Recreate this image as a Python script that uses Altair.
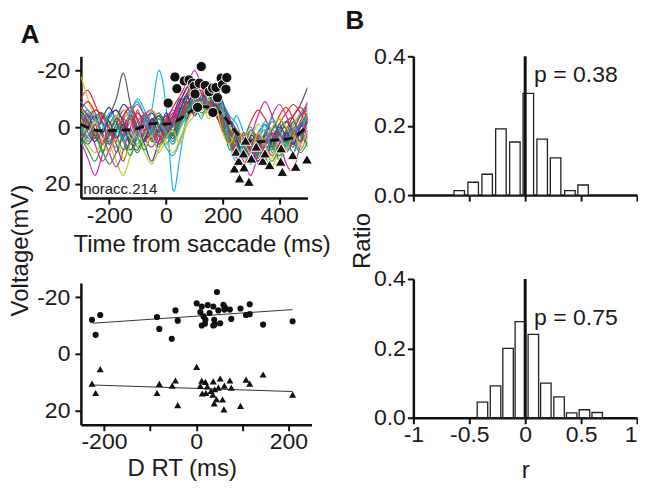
import altair as alt
import pandas as pd

FONT = "Liberation Sans"

# ---------------- Panel A (top): single-trial traces ----------------
TIME = [-300, -275, -250, -225, -200, -175, -150, -125, -100, -75, -50, -25, 0, 25, 50,
        75, 100, 125, 150, 175, 200, 225, 250, 275, 300, 325, 350, 375, 400, 425, 450, 475, 500]

GRAY_1 = [-3, -6, -2, 2, -4, -10, -19, -8, 0, 3, -2, -5, -1, 2, -6, -12, -14, -10, -15, -9, -4, 3, 8, 5, 9, 4, 1, 6, 3, -2, -4, -8, -14]
GRAY_2 = [4, 1, -3, -5, 1, 6, 12, 4, -2, -4, 2, 6, 1, -3, -5, -9, -6, -11, -8, -12, -6, 0, 6, 10, 4, 7, 3, -2, 2, 5, 1, -4, -7]
GRAY_3 = [-6, -2, 3, 6, 2, -3, -1, 5, 8, 2, -3, 0, 4, -1, -4, -10, -13, -9, -6, -10, -7, -2, 3, 7, 12, 8, 4, 8, 2, 0, 3, -1, -5]
GRAY_4 = [1, -5, 3, -2, 6, -1, 4, -4, 2, -3, 5, 1, -4, 3, -7, -3, -11, -6, -12, -5, -9, 2, 5, 11, 6, 10, 2, 7, -1, 4, -2, 3, -3]
RED_1 = [-10, -13, -8, -2, 3, -1, -6, -3, 2, 5, 1, -4, -2, 1, -3, -8, -12, -16, -11, -7, -3, 2, 7, 4, -2, -6, -3, 1, -4, -7, -3, 2, -2]
RED_2 = [2, -3, -6, -4, 1, 4, 0, -5, -8, -4, 1, 3, -2, -7, -11, -15, -10, -6, -9, -5, 1, 6, 9, 5, 1, 4, 8, 4, -1, -5, -8, -5, -1]
RED_3 = [-6, -9, -5, 2, 5, 1, -4, -7, -3, 2, 4, 0, -4, -2, -8, -12, -17, -12, -8, -4, -1, 4, 10, 13, 8, 3, 6, 10, 6, 1, -4, -7, -3]
RED_4 = [3, -2, 4, -4, 0, 5, -3, 2, -6, 1, -2, 5, -1, -5, -2, -9, -5, -13, -7, -11, 0, -3, 6, 2, 9, 3, 11, 5, 2, 8, 1, 5, -4]
MAGENTA_1 = [5, 11, 17, 10, 2, -3, 1, 6, 2, -4, -6, -1, 3, -2, -9, -14, -20, -15, -8, -5, -1, 5, 11, 8, 3, -4, -9, -4, 4, 13, 15, 6, -2]
MAGENTA_2 = [-4, 0, 6, 12, 8, 1, -4, -7, -2, 4, 7, 3, -1, -5, -3, -10, -14, -11, -16, -12, -6, 2, 8, 12, 17, 10, 3, -4, -8, -4, 3, 8, 2]
MAGENTA_3 = [1, -4, -2, 3, 9, 14, 8, 0, -5, -1, 4, 1, -3, -6, -2, -7, -11, -8, -13, -10, -4, 2, 5, 3, 7, 12, 7, 2, 5, 9, 4, -2, -9]
MAGENTA_4 = [-2, 4, -1, 6, 1, 9, 2, -3, 3, -5, 0, 6, 2, -3, -8, -4, -9, -14, -6, -10, -3, 3, 1, 8, 4, 13, 6, 2, 9, 3, 7, -1, 4]
BLUE_1 = [-7, -4, 1, 5, 2, -3, -8, -5, 1, 6, 12, 5, -1, -4, -9, -14, -12, -16, -12, -8, -3, 3, 6, 9, 5, 2, -1, 3, 7, 4, -1, -4, -6]
BLUE_2 = [3, 6, 2, -3, -7, -2, 4, 8, 3, -2, -5, -1, 3, -4, -10, -8, -13, -9, -5, -8, -2, 4, 9, 6, 11, 7, 3, 6, 1, -2, 2, 5, 1]
BLUE_3 = [-2, 2, 5, 1, -4, -6, -2, 3, 7, 4, -1, -4, 0, 4, -2, -6, -10, -7, -12, -15, -9, -3, 1, 5, 8, 12, 9, 4, 0, 3, 6, 2, -3]
BLUE_4 = [5, 0, -4, 2, -2, 4, -1, 6, 0, 5, -3, 2, -5, 0, -6, -11, -4, -9, -14, -6, 1, -2, 4, 10, 3, 6, 12, 5, 8, 2, 6, 0, -2]
CYAN_1 = [-5, -1, 4, 2, -3, -6, -2, 3, 6, 1, -6, -20, -8, 22, 10, -5, -12, -9, -13, -10, -5, 0, -4, 2, 7, 3, -2, 2, 6, 3, -1, -5, -8]
CYAN_2 = [-9, -6, -2, 3, 6, 2, -3, -6, -9, -4, 2, 6, 4, -1, -5, -8, -6, -10, -7, -11, -8, -3, 4, 8, 5, 9, 5, 1, 4, 8, 5, 0, -4]
CYAN_3 = [2, -2, -5, -1, 4, 7, 2, -5, -10, -6, 0, 3, 7, 10, 5, -3, -8, -11, -7, -4, -8, -4, -1, 6, 11, 6, 2, -3, 1, 5, 9, 4, 0]
CYAN_4 = [-1, 3, -3, 1, -5, 0, 5, 1, 4, -2, 3, -1, 2, 6, 0, -4, -9, -3, -10, -14, -7, 6, 12, 4, 0, 5, -1, 9, 3, 7, 0, 2, -5]
GREEN_1 = [4, 8, 12, 6, -1, -4, 0, 5, 9, 4, -2, -5, -1, 3, -4, -9, -7, -12, -9, -6, -1, 5, 8, 11, 6, 3, 8, 12, 7, 2, -2, 3, 6]
GREEN_2 = [-4, -1, 3, 8, 13, 9, 3, -2, -5, -1, 4, 7, 3, -2, -6, -11, -14, -10, -13, -9, -4, 1, 5, 3, 8, 11, 6, 1, -3, 1, 5, 9, 5]
GREEN_3 = [6, 3, -1, -5, -2, 3, 8, 5, 0, -4, -1, 3, 6, 2, -3, -7, -5, -8, -11, -7, -3, 2, 7, 10, 13, 9, 4, 7, 10, 6, 2, -1, -3]
GREEN_4 = [0, 5, 1, 9, 3, -2, 5, 10, 4, 8, 2, -3, 1, 5, -1, -6, -10, -5, -8, -12, -2, 8, 3, 7, 1, 6, 10, 3, 12, 5, 9, 2, 7]
YELLOW_1 = [-18, -10, -3, 2, 6, 12, 17, 10, 3, -2, -6, -3, 2, 6, 1, -5, -9, -7, -10, -6, -2, 4, 9, 6, 2, 5, 10, 14, 8, 3, -1, -4, -2]
YELLOW_2 = [-7, -3, 2, 6, 2, -3, -6, -2, 4, 9, 13, 8, 2, -3, -1, -6, -10, -8, -5, -9, -5, 0, 3, 7, 4, -1, 2, 6, 10, 7, 2, -2, -6]
YELLOW_3 = [3, 6, 9, 5, 0, -4, -1, 4, 7, 3, -2, 1, 5, 9, 4, -2, -6, -4, -8, -5, -1, 3, 6, 2, 5, 8, 4, 0, -3, 0, 4, 7, 4]
YELLOW_4 = [-3, 2, -2, 5, 9, 4, 11, 6, 1, 7, 3, 9, 4, 1, 6, -1, -4, -9, -3, -7, 2, 6, 1, 5, 9, 2, 6, 11, 4, 8, 3, 6, 1]

TRACES = {
    "gray1": GRAY_1, "red1": RED_1, "magenta1": MAGENTA_1, "blue1": BLUE_1, "cyan1": CYAN_1,
    "green1": GREEN_1, "yellow1": YELLOW_1,
    "gray2": GRAY_2, "red2": RED_2, "magenta2": MAGENTA_2, "blue2": BLUE_2, "cyan2": CYAN_2,
    "green2": GREEN_2, "yellow2": YELLOW_2,
    "gray3": GRAY_3, "red3": RED_3, "magenta3": MAGENTA_3, "blue3": BLUE_3, "cyan3": CYAN_3,
    "green3": GREEN_3, "yellow3": YELLOW_3,
    "gray4": GRAY_4, "red4": RED_4, "magenta4": MAGENTA_4, "blue4": BLUE_4, "cyan4": CYAN_4,
    "green4": GREEN_4, "yellow4": YELLOW_4,
}
COLOR_OF = {"gray": "#5a5a5a", "red": "#ec2227", "magenta": "#cf2aa6", "blue": "#2e3b9e",
            "cyan": "#1bb1e2", "green": "#1f9e3c", "yellow": "#c9c52a"}

MEAN_T = [-300, -250, -200, -150, -100, -50, 0, 50, 100, 150, 200, 250, 300, 350, 400, 450, 500]
MEAN_V = [-1, 1.5, 1.2, 1, 1, -2, -0.5, -2.5, -7, -7.5, -5.5, 3, 5.5, 5, 4.3, 4.4, -0.5]

PEAK_T = [8, 32, 39, 65, 82, 94, 100, 103, 112, 118, 125, 139, 153, 165, 166, 177, 182, 195, 200, 212, 215]
PEAK_V = [-8.5, -17.7, -13.6, -16.3, -16.7, -15.5, -14.4, -11.7, -7.0, -15.5, -21.4, -14.7, -12.5, -13.8, -5.2, -14.0, -10.4, -17.3, -15.0, -13.4, -17.5]

TROUGH_T = [242, 248, 257, 260, 274, 276, 281, 293, 302, 319, 342, 350, 366, 405, 407, 411, 448, 458, 498]
TROUGH_V = [14.5, 8.6, 11.8, 18.0, 9.2, 14.1, 4.7, 19.2, 11.0, 6.8, 11.8, 9.2, 13.3, 12.1, 7.4, 15.7, 9.8, 13.9, 11.3]

# ---------------- Panel A (bottom): voltage vs delta RT ----------------
CIRC_RT = [-226, -208, -218, -85, -80, -45, -40, -53, 1, 12, 25, 37, 45, 59, 62, 9, 29, 16, 20, 12,
           19, 39, 40, 37, 48, 61, 73, 52, 76, 96, 116, 108, 116, 145, 209]
CIRC_V = [-12.0, -13.7, -6.7, -13.0, -8.8, -15.3, -11.7, -5.3, -17.8, -16.7, -17.2, -16.7, -21.8, -17.3, -16.4,
          -14.7, -14.4, -13.2, -12.0, -10.0, -10.6, -12.0, -10.3, -10.0, -15.3, -15.6, -15.6, -10.8, -12.3,
          -16.0, -17.5, -13.7, -14.0, -10.3, -11.5]
TRI_RT = [-208, -226, -218, -80, -85, -45, -52, -40, 1, 12, 20, 37, 52, 73, 108, 116, 145, 209, 96, 60,
          39, 57, 9, 24, 13, 21, 32, 40, 36, 48, 44, 76, 61]
TRI_V = [5.4, 10.5, 13.8, 10.6, 13.8, 9.4, 11.2, 18.1, 4.6, 9.5, 9.9, 9.7, 8.7, 9.4, 9.1, 10.5, 7.3, 14.4,
         18.4, 19.6, 17.5, 16.1, 11.3, 11.5, 14.0, 13.8, 13.1, 12.5, 14.4, 11.9, 16.0, 11.9, 11.2]
FIT_RT = [-224, 209]
FIT_CIRC_V = [-10.8, -15.6]
FIT_TRI_V = [11.0, 13.3]

# ---------------- Panel B: histograms of r ----------------
HIST1_CENTER = [-0.59, -0.465, -0.34, -0.217, -0.092, 0.028, 0.152, 0.272, 0.40, 0.518]
HIST1_RATIO = [0.013, 0.037, 0.060, 0.191, 0.153, 0.293, 0.161, 0.107, 0.013, 0.029]
HIST2_CENTER = [-0.382, -0.265, -0.153, -0.043, 0.073, 0.185, 0.303, 0.416, 0.53, 0.644]
HIST2_RATIO = [0.045, 0.092, 0.200, 0.277, 0.240, 0.100, 0.060, 0.014, 0.023, 0.015]
BAR_HALF = 0.047
P_TEXT = ["p = 0.38", "p = 0.75"]

# ---------------- build tables ----------------
rows = []
for name, vals in TRACES.items():
    for t, v in zip(TIME, vals):
        rows.append({"t": t, "v": v, "trace": name})
traces_df = pd.DataFrame(rows)
trace_names = list(TRACES.keys())
trace_colors = [COLOR_OF[n.rstrip("0123456789")] for n in trace_names]

mean_df = pd.DataFrame({"t": MEAN_T, "v": MEAN_V})
peak_df = pd.DataFrame({"t": PEAK_T, "v": PEAK_V})
trough_df = pd.DataFrame({"t": TROUGH_T, "v": TROUGH_V})
label_df = pd.DataFrame({"t": [-292], "v": [23.6], "txt": ["noracc.214"]})

xA = alt.Scale(domain=[-300, 500], nice=False, zero=False)
yA = alt.Scale(domain=[-25, 25], reverse=True, nice=False, zero=False)

axis_xA = alt.Axis(values=[-200, 0, 200, 400], title="Time from saccade (ms)",
                   labelExpr="'' + datum.value", titleX=121, titlePadding=6)
axis_yA = alt.Axis(values=[-20, -10, 0, 10, 20], title=None, labelPadding=5,
                   labelExpr="abs(datum.value) % 20 == 0 ? '' + datum.value : ''")

lines = alt.Chart(traces_df).mark_line(interpolate="cardinal", strokeWidth=1.2, clip=True).encode(
    x=alt.X("t:Q", scale=xA, axis=axis_xA),
    y=alt.Y("v:Q", scale=yA, axis=axis_yA),
    color=alt.Color("trace:N", scale=alt.Scale(domain=trace_names, range=trace_colors), legend=None),
    detail="trace:N",
)
mean_line = alt.Chart(mean_df).mark_line(interpolate="basis", color="#111111", strokeWidth=3,
                                          strokeDash=[9, 5]).encode(x="t:Q", y="v:Q")
peaks = alt.Chart(peak_df).mark_point(shape="circle", filled=True, size=105, color="#111111",
                                      stroke="white", strokeWidth=1, opacity=1).encode(x="t:Q", y="v:Q")
troughs = alt.Chart(trough_df).mark_point(shape="triangle-up", filled=True, size=120, color="#111111",
                                          stroke="white", strokeWidth=1, opacity=1).encode(x="t:Q", y="v:Q")
lab = alt.Chart(label_df).mark_text(align="left", baseline="alphabetic", fontSize=15, font=FONT,
                                    color="#222222").encode(x="t:Q", y="v:Q", text="txt:N")

a_top = alt.layer(lines, mean_line, peaks, troughs, lab).properties(width=227, height=142)

circ_df = pd.DataFrame({"rt": CIRC_RT, "v": CIRC_V})
tri_df = pd.DataFrame({"rt": TRI_RT, "v": TRI_V})
fit_df = pd.DataFrame({"rt": FIT_RT + FIT_RT, "v": FIT_CIRC_V + FIT_TRI_V, "g": ["c", "c", "t", "t"]})

xB = alt.Scale(domain=[-250, 250], nice=False, zero=False)
axis_xB = alt.Axis(values=[-200, -100, 0, 100, 200], title="D RT (ms)", titleX=101, titlePadding=3,
                   labelExpr="datum.value % 200 == 0 ? '' + datum.value : ''")

fit = alt.Chart(fit_df).mark_line(color="#333333", strokeWidth=1).encode(
    x=alt.X("rt:Q", scale=xB, axis=axis_xB),
    y=alt.Y("v:Q", scale=yA, axis=axis_yA),
    detail="g:N",
)
circ = alt.Chart(circ_df).mark_point(shape="circle", filled=True, size=38, color="#111111",
                                     opacity=1).encode(x="rt:Q", y="v:Q")
tri = alt.Chart(tri_df).mark_point(shape="triangle-up", filled=True, size=50, color="#111111",
                                   opacity=1).encode(x="rt:Q", y="v:Q")
a_bot = alt.layer(fit, circ, tri).properties(width=231, height=142)


def hist_panel(centers, ratios, ptxt, ptext_y, show_labels):
    df = pd.DataFrame({"lo": [c - BAR_HALF for c in centers],
                       "hi": [c + BAR_HALF for c in centers],
                       "ratio": ratios,
                       "base": [0.0] * len(ratios)})
    xs = alt.Scale(domain=[-1, 1], nice=False, zero=False)
    ys = alt.Scale(domain=[0, 0.4], nice=False)
    ax = alt.Axis(values=[-1, -0.5, 0, 0.5, 1], labels=show_labels,
                  title="r" if show_labels else None, labelExpr="'' + datum.value",
                  titlePadding=12,
                  labelAlign=alt.condition("datum.value == 1", alt.value("right"), alt.value("center")))
    ay = alt.Axis(values=[0, 0.2, 0.4], format=".1f", title=None, labelPadding=2)
    bars = alt.Chart(df).mark_rect(fill="white", stroke="#222222", strokeWidth=1.3).encode(
        x=alt.X("lo:Q", scale=xs, axis=ax),
        x2="hi:Q",
        y=alt.Y("ratio:Q", scale=ys, axis=ay),
        y2="base:Q",
    )
    zl = alt.Chart(pd.DataFrame({"r": [0], "y0": [0], "y1": [0.4]})).mark_rule(
        color="#111111", strokeWidth=3).encode(x="r:Q", y="y0:Q", y2="y1:Q")
    pt = alt.Chart(pd.DataFrame({"r": [0.08], "y": [ptext_y], "txt": [ptxt]})).mark_text(
        align="left", baseline="middle", fontSize=23, font=FONT, color="#1a1a1a").encode(
        x="r:Q", y="y:Q", text="txt:N")
    return alt.layer(bars, zl, pt).properties(width=224, height=139)


b_top = hist_panel(HIST1_CENTER, HIST1_RATIO, P_TEXT[0], 0.345, False)
b_bot = hist_panel(HIST2_CENTER, HIST2_RATIO, P_TEXT[1], 0.288, True)

colA = alt.vconcat(a_top, a_bot, spacing=26).properties(
    title=alt.TitleParams("Voltage(mV)", orient="left", anchor="middle", fontSize=24,
                          fontWeight="normal", font=FONT, color="#1a1a1a", offset=4, dx=18))
colA = alt.vconcat(colA).properties(
    title=alt.TitleParams("A", anchor="start", fontSize=26, fontWeight="bold", font=FONT,
                          color="#111111", dx=12, offset=8))
colB = alt.vconcat(b_top, b_bot, spacing=61).properties(
    title=alt.TitleParams("Ratio", orient="left", anchor="middle", fontSize=24,
                          fontWeight="normal", font=FONT, color="#1a1a1a", offset=-2, dx=23))
colB = alt.vconcat(colB).properties(
    title=alt.TitleParams("B", anchor="start", fontSize=26, fontWeight="bold", font=FONT,
                          color="#111111", dx=-6, offset=11))

chart = alt.hconcat(colA, colB, spacing=15).properties(
    padding={"left": 0, "top": 0, "right": 0, "bottom": 0}
).configure_view(stroke=None).configure_axis(
    domainColor="#111111", domainWidth=2.5, tickColor="#111111", tickWidth=2, tickSize=6,
    labelFont=FONT, labelFontSize=23, labelColor="#1a1a1a", labelPadding=0,
    titleFont=FONT, titleFontSize=24, titleFontWeight="normal", titleColor="#1a1a1a",
    titlePadding=-2, grid=False, labelFlush=False, labelOverlap=False,
)

chart.save("out.html", embed_options={"renderer": "svg", "actions": False})
